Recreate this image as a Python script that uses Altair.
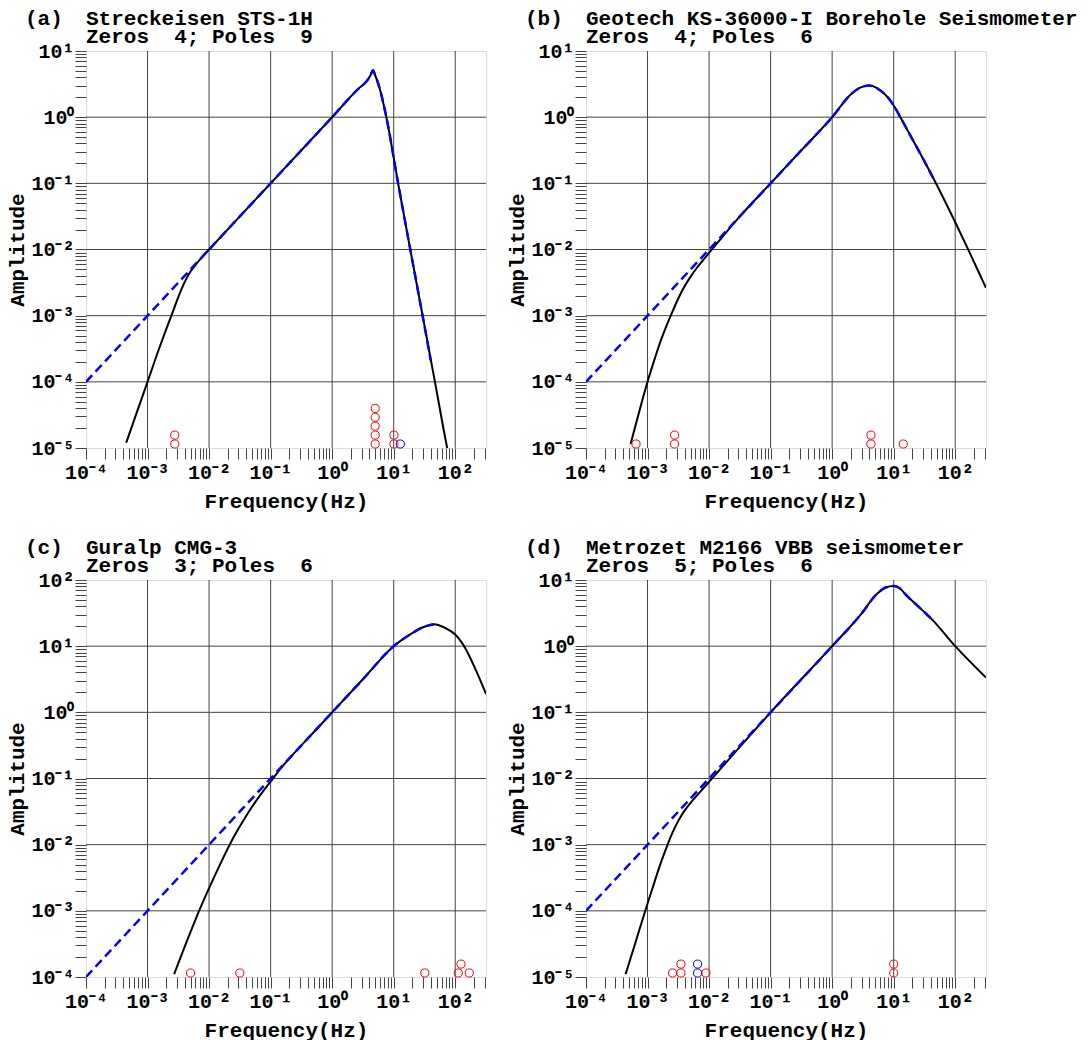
import altair as alt
import pandas as pd

FONT = "Liberation Mono"

# ---------------- panel text ----------------
panel_letters = ["(a)", "(b)", "(c)", "(d)"]
panel_names = ["Streckeisen STS-1H",
               "Geotech KS-36000-I Borehole Seismometer",
               "Guralp CMG-3",
               "Metrozet M2166 VBB seismometer"]
n_zeros = [4, 4, 3, 5]
n_poles = [9, 6, 6, 6]
y_exp_min = [-5, -5, -4, -5]
y_exp_max = [1, 1, 2, 1]
x_exp_min = -4
x_exp_max = 2.5
x_title = "Frequency(Hz)"
y_title = "Amplitude"

# ---------------- (a) Streckeisen STS-1H ----------------
a_black_f = [4.5e-4, 6.31e-4, 1e-3, 1.58e-3, 2e-3, 2.51e-3, 3.16e-3, 3.98e-3, 5.01e-3, 6.31e-3,
             7.94e-3, 1e-2, 3.16e-2, 1e-1, 0.316, 1.0, 2.8, 3.6, 4.2, 4.6, 5.0, 5.8, 7.6,
             11.8, 18.6, 29.5, 46.8, 74.0, 80.0]
a_black_amp = [1.2e-5, 2.95e-5, 1e-4, 3.39e-4, 6.17e-4, 1.07e-3, 1.91e-3, 3.16e-3, 4.68e-3, 6.17e-3,
               7.94e-3, 1e-2, 3.16e-2, 0.1, 0.316, 1.0, 2.8, 3.45, 4.3, 5.1, 4.3, 2.9, 1.0,
               0.1, 1e-2, 1e-3, 1e-4, 1e-5, 7e-6]
a_blue_f = [1e-4, 1e-3, 1e-2, 3.16e-2, 1e-1, 0.316, 1.0, 2.8, 3.6, 4.2, 4.6, 5.0, 5.8, 7.6, 11.8,
            18.6, 29.5, 40.0]
a_blue_amp = [1e-4, 1e-3, 1e-2, 3.16e-2, 0.1, 0.316, 1.0, 2.8, 3.45, 4.3, 5.1, 4.3, 2.9, 1.0, 0.1,
              1e-2, 1e-3, 2.1e-4]
a_pole_f = [2.77e-3, 2.77e-3, 5.0, 5.0, 5.0, 5.0, 5.0, 10.1, 10.1]
a_pole_level = [0, 1, 0, 1, 2, 3, 4, 0, 1]
a_zero_f = [12.8]
a_zero_level = [0]

# ---------------- (b) Geotech KS-36000-I ----------------
b_black_f = [5.3e-4, 7.08e-4, 1e-3, 1.26e-3, 1.58e-3, 2e-3, 2.51e-3, 3.16e-3, 3.98e-3, 5.01e-3,
             6.31e-3, 7.94e-3, 1e-2, 1.58e-2, 3.16e-2, 1e-1, 0.316, 1.0, 2.0, 3.0, 4.0, 5.0,
             6.0, 8.0, 10.0, 13.3, 20.0, 30.0, 45.0, 70.0, 100.0, 160.0, 230.0, 316.0]
b_black_amp = [1.15e-5, 3.16e-5, 1e-4, 2e-4, 3.8e-4, 6.76e-4, 1.12e-3, 1.82e-3, 2.75e-3, 3.89e-3,
               5.25e-3, 6.84e-3, 8.9e-3, 1.48e-2, 3.16e-2, 0.1, 0.316, 1.0, 2.2, 2.85, 3.0, 2.85,
               2.55, 2.0, 1.5, 0.94, 0.47, 0.235, 0.115, 0.0508, 0.0258, 0.0103, 0.00498, 0.00264]
b_blue_f = [1e-4, 1e-3, 1e-2, 3.16e-2, 1e-1, 0.316, 1.0, 2.0, 3.0, 4.0, 5.0, 6.0, 8.0, 10.0, 13.3,
            20.0, 30.0, 45.0]
b_blue_amp = [1e-4, 1e-3, 1e-2, 3.16e-2, 0.1, 0.316, 1.0, 2.2, 2.85, 3.0, 2.85, 2.55, 2.0, 1.5, 0.94,
              0.47, 0.235, 0.115]
b_pole_f = [6.5e-4, 2.75e-3, 2.75e-3, 4.27, 4.27, 14.3]
b_pole_level = [0, 0, 1, 0, 1, 0]
b_zero_f = []
b_zero_level = []

# ---------------- (c) Guralp CMG-3 ----------------
c_black_f = [2.7e-3, 4e-3, 6.3e-3, 1e-2, 1.58e-2, 2.5e-2, 4e-2, 6.3e-2, 0.1, 0.158, 0.25, 0.5,
             1.0, 3.16, 10.0, 20.0, 30.0, 45.0, 70.0, 100.0, 148.0, 213.0, 316.0]
c_black_amp = [1.1e-4, 2.85e-4, 8.2e-4, 2.2e-3, 5.5e-3, 1.29e-2, 2.72e-2, 5.1e-2, 9.0e-2, 0.155, 0.25,
               0.5, 1.0, 3.16, 10.0, 15.7, 19.3, 21.5, 18.7, 15.0, 9.1, 4.5, 1.9]
c_blue_f = [1e-4, 1e-3, 1e-2, 1e-1, 1.0, 3.16, 10.0, 20.0, 30.0, 45.0]
c_blue_amp = [1e-4, 1e-3, 1e-2, 0.1, 1.0, 3.16, 10.0, 15.7, 19.3, 21.5]
c_pole_f = [5.0e-3, 3.16e-2, 32.0, 112.0, 124.0, 169.0]
c_pole_level = [0, 0, 0, 0, 1, 0]
c_zero_f = []
c_zero_level = []

# ---------------- (d) Metrozet M2166 ----------------
d_black_f = [4.4e-4, 6.31e-4, 1e-3, 1.26e-3, 1.58e-3, 2e-3, 2.51e-3, 3.16e-3, 3.98e-3, 5.01e-3,
             6.31e-3, 7.94e-3, 1e-2, 3.16e-2, 0.1, 1.0, 3.0, 5.1, 7.4, 10.0, 12.5, 15.7, 25.0,
             42.6, 100.0, 316.0]
d_black_amp = [1.1e-5, 3.24e-5, 1.29e-4, 2.51e-4, 4.79e-4, 8.7e-4, 1.48e-3, 2.29e-3, 3.24e-3, 4.27e-3,
               5.5e-3, 7.0e-3, 8.9e-3, 3.0e-2, 0.1, 1.0, 3.1, 5.9, 7.7, 8.1, 7.5, 6.0, 4.0,
               2.5, 1.0, 0.335]
d_blue_f = [1e-4, 1e-3, 1e-2, 0.1, 1.0, 3.0, 5.1, 7.4, 10.0, 12.5, 15.7, 25.0, 42.6]
d_blue_amp = [1e-4, 1e-3, 1e-2, 0.1, 1.0, 3.1, 5.9, 7.7, 8.1, 7.5, 6.0, 4.0, 2.5]
d_pole_f = [2.55e-3, 3.49e-3, 3.49e-3, 8.9e-3, 10.0, 10.0]
d_pole_level = [0, 0, 1, 0, 0, 1]
d_zero_f = [6.5e-3, 6.5e-3]
d_zero_level = [0, 1]

# ---------------- helpers ----------------
W, H = 400, 397
SUP = str.maketrans("-0123456789", "\u207b\u2070\u00b9\u00b2\u00b3\u2074\u2075\u2076\u2077\u2078\u2079")


def tick_text(e):
    return "10" + str(e).translate(SUP)


def label_expr(exps):
    parts = [f"abs(log(datum.value)/LN10 - ({e})) < 0.001 ? '{tick_text(e)}'" for e in exps]
    return " : ".join(parts) + " : ''"


def minor_ticks(e0, e1):
    out = []
    for e in range(int(e0), int(e1) + 1):
        for m in range(1, 10):
            v = m * 10.0 ** e
            if 10.0 ** e0 * 0.9999 <= v <= 10.0 ** e1 * 1.0001:
                out.append(v)
    return out


x_dom = [10.0 ** x_exp_min, 10.0 ** x_exp_max]
x_vals = minor_ticks(x_exp_min, x_exp_max)
x_dec = list(range(x_exp_min, 3))

axis_common = dict(
    grid=False, domain=False, tickSize=11, tickColor="#444", tickWidth=1,
    labelFont=FONT, labelFontSize=20, labelFontWeight="bold", labelColor="black",
    labelFlush=False, labelOverlap=False,
    titleFont=FONT, titleFontSize=21, titleFontWeight="bold", titleColor="black",
)

TEXT_STYLE = dict(font=FONT, fontSize=21, fontWeight="bold", color="black",
                  align="left", baseline="alphabetic")


def make_panel(i, bf, ba, uf, ua, pf, pl, zf, zl):
    ye0, ye1 = y_exp_min[i], y_exp_max[i]
    y_dom = [10.0 ** ye0, 10.0 ** ye1]
    y_vals = minor_ticks(ye0, ye1)
    y_dec = list(range(ye0, ye1 + 1))

    xs = alt.Scale(type="log", domain=x_dom, nice=False)
    ys = alt.Scale(type="log", domain=y_dom, nice=False)
    xa = alt.Axis(values=x_vals, labelExpr=label_expr(x_dec), title=x_title,
                  labelPadding=3, titlePadding=8, **axis_common)
    ya = alt.Axis(values=y_vals, labelExpr=label_expr(y_dec), title=y_title,
                  labelPadding=1, titlePadding=3, **axis_common)

    def X(f):
        return alt.X(f, type="quantitative", scale=xs, axis=xa)

    def Y(f):
        return alt.Y(f, type="quantitative", scale=ys, axis=ya)

    gx = pd.DataFrame({"f": [10.0 ** e for e in x_dec[1:]]})
    gy = pd.DataFrame({"a": [10.0 ** e for e in y_dec[1:-1]]})
    vgrid = alt.Chart(gx).mark_rule(color="#444", strokeWidth=1).encode(x=X("f"))
    hgrid = alt.Chart(gy).mark_rule(color="#444", strokeWidth=1).encode(y=Y("a"))

    black = alt.Chart(pd.DataFrame({"f": bf, "a": ba})).mark_line(
        color="black", strokeWidth=2, clip=True, interpolate="monotone"
    ).encode(x=X("f"), y=Y("a"))
    blue = alt.Chart(pd.DataFrame({"f": uf, "a": ua})).mark_line(
        color="#0000ff", strokeWidth=2.5, strokeDash=[9, 5], clip=True, interpolate="monotone"
    ).encode(x=X("f"), y=Y("a"))

    base_y = 10.0 ** ye0
    step_expr = f"{base_y} * pow(10, 0.0605 + 0.1345 * datum.k)"
    layers = [vgrid, hgrid, black, blue]
    poles = alt.Chart(pd.DataFrame({"f": pf, "k": pl})).transform_calculate(
        a=step_expr
    ).mark_point(shape="circle", filled=False, size=66, strokeWidth=1, color="#ff0000", opacity=1
    ).encode(x=X("f"), y=Y("a:Q"))
    layers.append(poles)
    if len(zf):
        zeros = alt.Chart(pd.DataFrame({"f": zf, "k": zl})).transform_calculate(
            a=step_expr
        ).mark_point(shape="circle", filled=False, size=66, strokeWidth=1, color="#0000ff", opacity=1
        ).encode(x=X("f"), y=Y("a:Q"))
        layers.append(zeros)

    # panel heading: letter, instrument name, zeros/poles line
    nb = "\u00a0"
    line2 = f"Zeros{nb*2}{n_zeros[i]};{nb}Poles{nb*2}{n_poles[i]}"
    heads = [(panel_letters[i], -61, -26), (panel_names[i], 0, -26), (line2, 0, -8)]
    for txt, px, py in heads:
        layers.append(
            alt.Chart(pd.DataFrame({"t": [txt]})).mark_text(**TEXT_STYLE).encode(
                text="t:N", x=alt.value(px), y=alt.value(py))
        )
    return alt.layer(*layers).properties(width=W, height=H)


pa = make_panel(0, a_black_f, a_black_amp, a_blue_f, a_blue_amp, a_pole_f, a_pole_level, a_zero_f, a_zero_level)
pb = make_panel(1, b_black_f, b_black_amp, b_blue_f, b_blue_amp, b_pole_f, b_pole_level, b_zero_f, b_zero_level)
pc = make_panel(2, c_black_f, c_black_amp, c_blue_f, c_blue_amp, c_pole_f, c_pole_level, c_zero_f, c_zero_level)
pd_ = make_panel(3, d_black_f, d_black_amp, d_blue_f, d_blue_amp, d_pole_f, d_pole_level, d_zero_f, d_zero_level)

chart = alt.concat(pa, pb, pc, pd_, columns=2, spacing={"row": 132, "column": 100},
                   bounds="flush").properties(
    padding={"left": -2, "top": -1, "right": 0, "bottom": 0}
).configure_view(stroke="black", strokeWidth=2.5).configure(background="white")

chart.save("out.html", embed_options={"renderer": "svg", "actions": False})
